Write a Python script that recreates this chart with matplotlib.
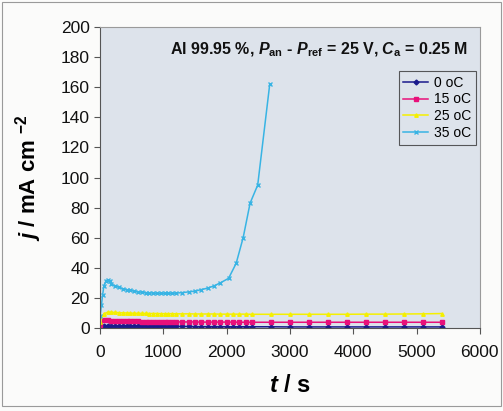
import matplotlib.pyplot as plt
from matplotlib.patches import Rectangle

plt.rcParams['font.family'] = ['Liberation Sans', 'DejaVu Sans']
plt.rcParams['mathtext.fontset'] = 'custom'
plt.rcParams['mathtext.rm'] = 'Liberation Sans:bold'
plt.rcParams['mathtext.it'] = 'Liberation Sans:italic:bold'
plt.rcParams['mathtext.bf'] = 'Liberation Sans:bold'

# sampling times (s) for 0, 15 and 25 oC runs
t_low = [0, 60, 120, 180, 240, 300, 360, 420, 480, 540, 600, 660, 720, 780, 840,
         900, 960, 1020, 1080, 1140, 1200, 1300, 1400, 1500, 1600, 1700, 1800,
         1900, 2000, 2100, 2200, 2300, 2400, 2700, 3000, 3300, 3600, 3900, 4200,
         4500, 4800, 5100, 5400]

j_0 = [0.5, 1.6, 1.6, 1.5, 1.5, 1.4, 1.4, 1.4, 1.3, 1.3, 1.3, 1.2, 1.2, 1.2, 1.2,
       1.1, 1.1, 1.1, 1.1, 1.0, 1.0, 1.0, 1.0, 0.9, 0.9, 0.9, 0.9,
       0.9, 0.8, 0.8, 0.8, 0.8, 0.8, 0.8, 0.7, 0.7, 0.7, 0.7, 0.7,
       0.7, 0.7, 0.7, 0.7]
j_15 = [2.0, 5.2, 5.0, 4.9, 4.8, 4.7, 4.6, 4.5, 4.5, 4.4, 4.4, 4.3, 4.3, 4.2, 4.2,
        4.2, 4.1, 4.1, 4.1, 4.0, 4.0, 4.0, 4.0, 4.0, 3.9, 3.9, 3.9,
        3.9, 3.9, 3.9, 3.8, 3.8, 3.8, 3.8, 3.8, 3.8, 3.8, 3.8, 3.8,
        3.8, 3.8, 3.8, 3.8]
j_25 = [4.0, 9.5, 10.5, 10.5, 10.3, 10.2, 10.0, 10.0, 9.9, 9.8, 9.8, 9.7, 9.7, 9.6, 9.6,
        9.6, 9.5, 9.5, 9.5, 9.5, 9.4, 9.4, 9.4, 9.3, 9.3, 9.3, 9.3,
        9.2, 9.2, 9.2, 9.2, 9.2, 9.1, 9.1, 9.1, 9.1, 9.1, 9.1, 9.2,
        9.2, 9.3, 9.4, 9.6]

t_35 = [0, 20, 40, 60, 90, 120, 150, 180, 240, 300, 360, 420, 480, 540, 600,
        660, 720, 780, 840, 900, 960, 1020, 1080, 1140, 1200, 1300, 1400, 1500,
        1600, 1700, 1800, 1900, 2030, 2150, 2260, 2370, 2490, 2680]
j_35 = [8, 15, 22, 28, 31, 32, 31, 29, 28, 27, 26, 25.5, 25, 24.5, 24,
        23.7, 23.5, 23.3, 23.2, 23, 23, 23, 23, 23, 23.2, 23.5, 24, 24.5,
        25.5, 26.5, 28, 30, 33, 43, 60, 83, 95, 162]

series = [
    (t_low, j_0, '0 oC', '#1a1a8c', 'D'),
    (t_low, j_15, '15 oC', '#e8107a', 's'),
    (t_low, j_25, '25 oC', '#f5f000', '^'),
    (t_35, j_35, '35 oC', '#38b4e4', 'x'),
]

fig = plt.figure(figsize=(5.03, 4.11), dpi=100)
fig.patch.set_facecolor('#fbfbfa')
fig.patches.append(Rectangle((0.004, 0.012), 0.992, 0.984, transform=fig.transFigure,
                             fill=False, edgecolor='#9a9a9a', linewidth=0.8))
ax = fig.add_axes([0.199, 0.202, 0.755, 0.732])
ax.set_facecolor('#dde3eb')

for t, j, lab, col, mk in series:
    ax.plot(t, j, color=col, marker=mk, markersize=2.5, linewidth=1.1, label=lab)

ax.set_xlim(0, 6000)
ax.set_ylim(0, 200)
ax.set_xticks(range(0, 6001, 1000))
ax.set_yticks(range(0, 201, 20))
ax.tick_params(labelsize=12.5, length=4, color='#555555', colors='#111111')
ax.tick_params(axis='x', pad=8)
for s in ax.spines.values():
    s.set_color('#9a9a9a')
ax.spines['left'].set_color('#555555')
ax.spines['bottom'].set_color('#555555')

ax.set_xlabel(r'$t$ / s', fontsize=17, fontweight='bold', labelpad=10)
ax.set_ylabel(r'$j$ / mA cm $^{-2}$', fontsize=16, fontweight='bold', labelpad=12)

ax.text(0.97, 0.925,
        r'Al 99.95 %, $P_{\mathrm{an}}$ - $P_{\mathrm{ref}}$ = 25 V, $C_{\mathrm{a}}$ = 0.25 M',
        transform=ax.transAxes, ha='right', va='center', fontsize=11.5, fontweight='bold',
        color='#111111')

leg = ax.legend(loc='upper right', bbox_to_anchor=(0.99, 0.855), fontsize=10,
                frameon=True, fancybox=False, handlelength=1.8, borderpad=0.35,
                labelspacing=0.2, handletextpad=0.4, borderaxespad=0)
leg.get_frame().set_edgecolor('#333333')
leg.get_frame().set_facecolor('#dde3eb')
leg.get_frame().set_linewidth(0.8)

fig.savefig('out.png', dpi=100, facecolor=fig.get_facecolor())
